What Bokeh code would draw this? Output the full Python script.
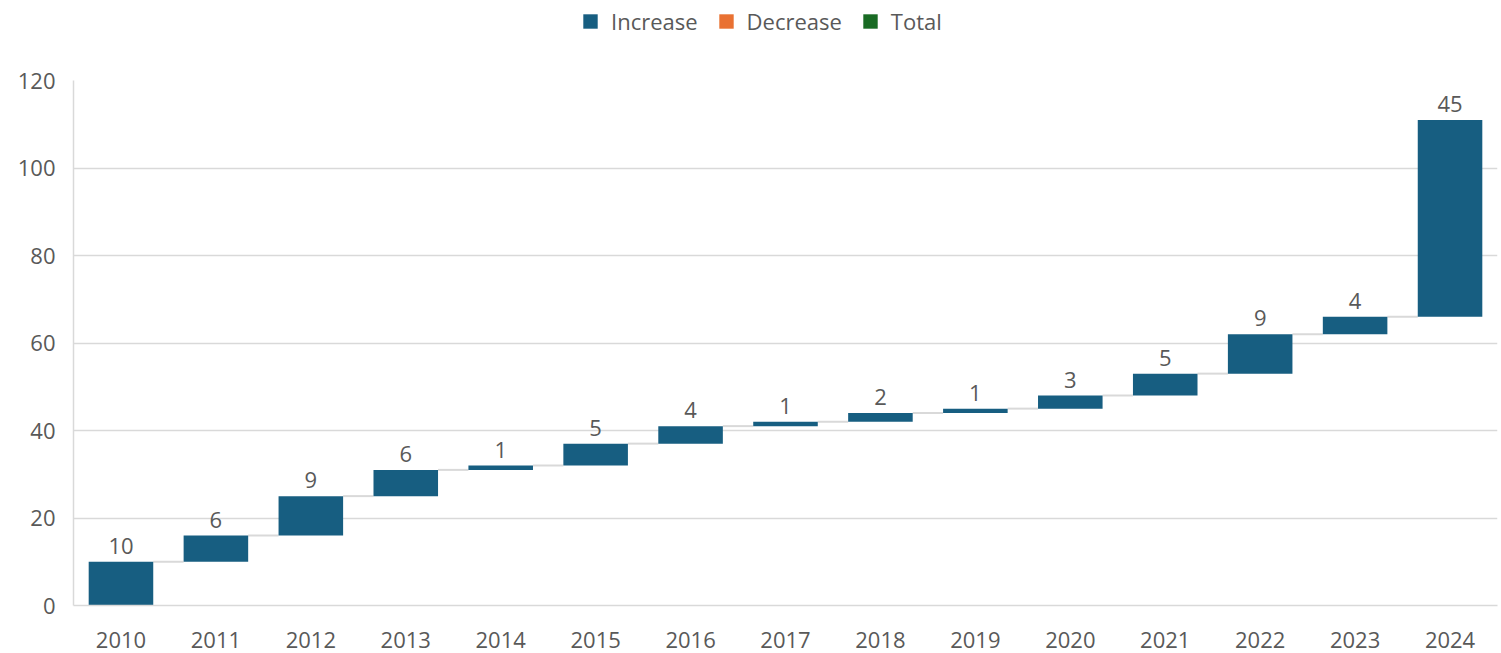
from bokeh.plotting import figure
from bokeh.layouts import column
from bokeh.models import ColumnDataSource, Legend, LegendItem, FactorRange, Range1d, FixedTicker
from bokeh.transform import dodge
from bokeh.core.properties import value
from bokeh.embed import file_html
from bokeh.resources import INLINE

years = ["2010", "2011", "2012", "2013", "2014", "2015", "2016", "2017",
         "2018", "2019", "2020", "2021", "2022", "2023", "2024"]
changes = [10, 6, 9, 6, 1, 5, 4, 1, 2, 1, 3, 5, 9, 4, 45]
y_ticks = [0, 20, 40, 60, 80, 100, 120]
legend_labels = ["Increase", "Decrease", "Total"]
legend_colors = ["#175E81", "#E97132", "#196B24"]

FONT = "Open Sans"
FS = "22px"
TXT = "#595959"
GRID = "#d9d9d9"

tops, bottoms = [], []
run = 0
for c in changes:
    bottoms.append(run)
    run += c
    tops.append(run)

src = ColumnDataSource(dict(year=years, top=tops, bottom=bottoms,
                            label=[str(c) for c in changes]))
conn = ColumnDataSource(dict(a=years[:-1], b=years[1:], y=tops[:-1]))

# ---- legend strip ----
lg = figure(width=1501, height=42, x_range=Range1d(0, 1), y_range=Range1d(0, 1),
            output_backend="svg", toolbar_location=None, min_border=0)
lg.outline_line_color = None
lg.axis.visible = False
lg.grid.visible = False
nan = float("nan")
lg_r = [lg.vbar(x=[0.5], top=[nan], bottom=[nan], width=0.1,
                fill_color=c, line_color=None) for c in legend_colors]
legend = Legend(items=[LegendItem(label=l, renderers=[r]) for l, r in zip(legend_labels, lg_r)],
                orientation="horizontal", location=(508, 6), border_line_color=None,
                background_fill_alpha=0, label_text_font=FONT, label_text_font_size=FS,
                label_text_color=TXT, glyph_width=18, glyph_height=18, spacing=19,
                label_standoff=12, padding=0, margin=0)
lg.add_layout(legend, "center")

# ---- main chart ----
p = figure(x_range=FactorRange(*years, range_padding=0), y_range=Range1d(0, 120),
           width=1501, height=611, output_backend="svg", toolbar_location=None,
           min_border_left=73, min_border_right=4, min_border_top=38, min_border_bottom=48)
p.outline_line_color = None
p.xgrid.grid_line_color = None
p.ygrid.grid_line_color = GRID
p.ygrid.grid_line_width = 1.5

for ax in (p.xaxis[0], p.yaxis[0]):
    ax.axis_line_color = GRID
    ax.axis_line_width = 1.5
    ax.major_tick_line_color = None
    ax.minor_tick_line_color = None
    ax.major_label_text_font = FONT
    ax.major_label_text_font_size = FS
    ax.major_label_text_color = TXT
p.yaxis[0].ticker = FixedTicker(ticks=y_ticks)
p.yaxis[0].major_label_standoff = 12
p.xaxis[0].major_label_standoff = 20

p.segment(x0=dodge("a", 0.34, range=p.x_range), x1=dodge("b", -0.34, range=p.x_range),
          y0="y", y1="y", source=conn, line_color=GRID, line_width=2)

p.vbar(x="year", top="top", bottom="bottom", width=0.68, source=src,
       fill_color=legend_colors[0], line_color=None)

p.text(x="year", y="top", text="label", source=src, text_align="center",
       text_baseline="bottom", y_offset=-8, text_font=value(FONT),
       text_font_size=FS, text_color=TXT)

layout = column(lg, p, spacing=0)
open("out.html", "w").write(file_html(layout, INLINE))
